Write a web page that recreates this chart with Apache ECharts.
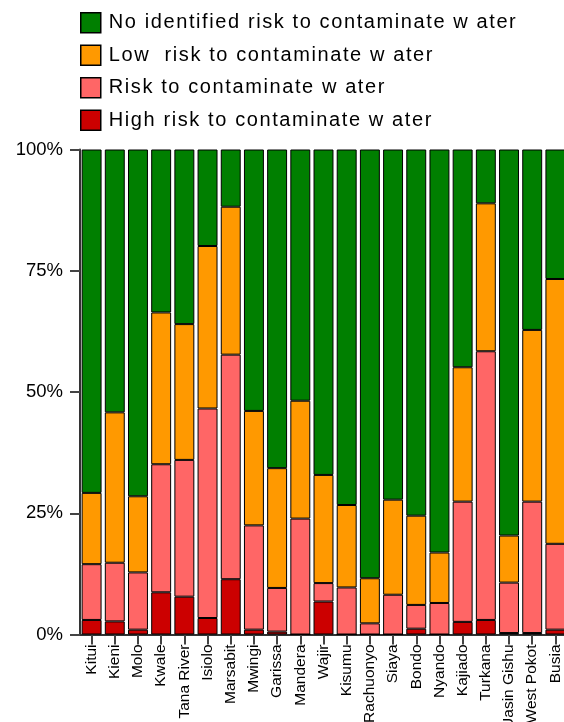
<!DOCTYPE html>
<html>
<head>
<meta charset="utf-8">
<script src="https://cdn.jsdelivr.net/npm/echarts@6/dist/echarts.min.js"></script>
<style>
html,body{margin:0;padding:0;background:#fff;}
#chart{width:564px;height:722px;}
</style>
</head>
<body>
<div id="chart"></div>
<script>
var categories = ["Kitui","Kieni","Molo","Kwale","Tana River","Isiolo","Marsabit","Mwingi","Garissa","Mandera","Wajir","Kisumu","Rachuonyo","Siaya","Bondo","Nyando","Kajiado","Turkana","Uasin Gishu","West Pokot","Busia"];
var highRisk = [3.0,2.7,1.0,8.7,7.8,3.4,11.4,1.0,0.6,0,6.8,0,0,0,1.2,0,2.6,3.0,0.3,0.3,1.0];
var risk     = [11.5,12.1,11.8,26.4,28.2,43.2,46.3,21.5,9.0,23.9,3.8,9.7,2.3,8.2,4.9,6.5,24.8,55.4,10.4,27.1,17.7];
var lowRisk  = [14.7,31.0,15.7,31.3,28.0,33.5,30.5,23.6,24.7,24.3,22.3,17.0,9.3,19.6,18.4,10.4,27.7,30.5,9.7,35.4,54.6];
var noRisk   = [70.8,54.2,71.5,33.6,36.0,19.9,11.8,53.9,65.7,51.8,67.1,73.3,88.4,72.2,75.5,83.1,44.9,11.1,79.6,37.2,26.7];
var yTicks = [0,25,50,75,100];
var seriesNames = ["No identified risk to contaminate w ater","Low  risk to contaminate w ater","Risk to contaminate w ater","High risk to contaminate w ater"];

// the reference legend text is drawn with a slightly wider letter spacing
(function(){
  var proto = CanvasRenderingContext2D.prototype;
  var orig = proto.fillText;
  proto.fillText = function(t, x, y, m){
    if ('letterSpacing' in this) {
      this.letterSpacing = /(^|\s)20px/.test(this.font) ? '1.6px' : '0px';
    }
    return m === undefined ? orig.call(this, t, x, y) : orig.call(this, t, x, y, m);
  };
})();

var chart = echarts.init(document.getElementById('chart'), null, {renderer:'canvas'});
var font = 'Liberation Sans, Arial, sans-serif';
function mk(name, data, color){
  return {name:name,type:'bar',stack:'all',data:data,barCategoryGap:'14%',
    itemStyle:{color:color,borderColor:'#000',borderWidth:1},
    emphasis:{disabled:true}};
}
chart.setOption({
  animation:false,
  legend:{
    orient:'vertical',left:75,top:7,itemWidth:20,itemHeight:20,itemGap:11,
    icon:'rect',
    data:seriesNames,
    itemStyle:{borderColor:'#000',borderWidth:1.5},
    textStyle:{fontFamily:font,fontSize:20,color:'#000',padding:[0,0,0,3]}
  },
  grid:{left:80,right:-3,top:149.5,bottom:87.5,containLabel:false,outerBoundsMode:'none'},
  xAxis:{
    type:'category',data:categories,
    axisLine:{show:true,lineStyle:{color:'#333',width:2}},
    axisTick:{show:true,alignWithLabel:true,length:10,lineStyle:{color:'#444',width:2}},
    axisLabel:{rotate:90,interval:0,margin:10,fontFamily:font,fontSize:15.5,color:'#000'}
  },
  yAxis:{
    type:'value',min:0,max:100,interval:25,
    axisLine:{show:true,lineStyle:{color:'#333',width:2}},
    axisTick:{show:true,length:10,lineStyle:{color:'#444',width:2}},
    splitLine:{show:false},
    axisLabel:{margin:17,fontFamily:font,fontSize:18.5,color:'#000',
      formatter:function(v){return yTicks.indexOf(v)>=0 ? v+'%' : '';}}
  },
  series:[
    mk(seriesNames[3], highRisk, '#CC0000'),
    mk(seriesNames[2], risk, '#FF6666'),
    mk(seriesNames[1], lowRisk, '#FF9900'),
    mk(seriesNames[0], noRisk, '#007F00')
  ]
});
</script>
</body>
</html>
